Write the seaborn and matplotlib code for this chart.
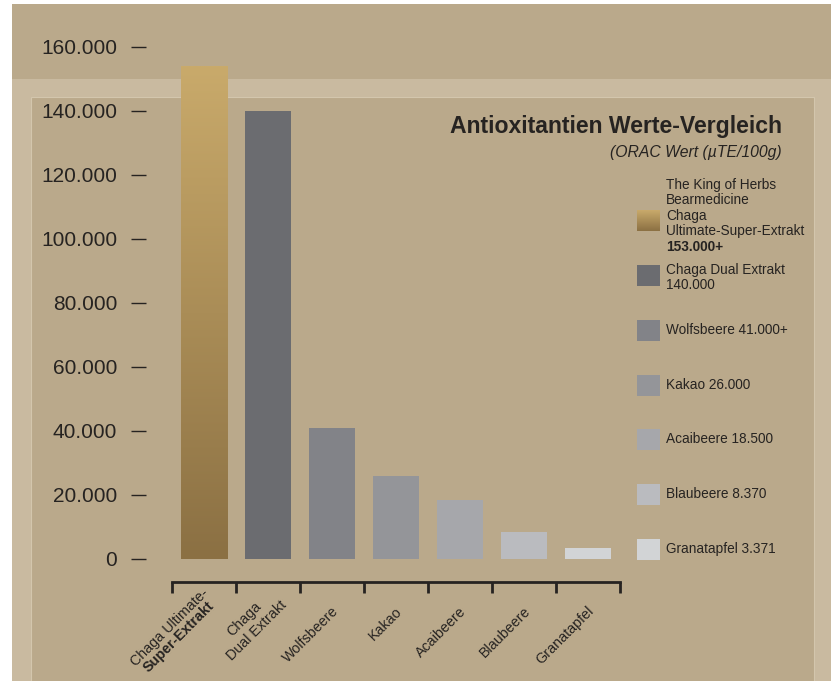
import matplotlib
matplotlib.use('Agg')
import matplotlib.pyplot as plt
import matplotlib.transforms as mtransforms
from matplotlib.colors import LinearSegmentedColormap
from matplotlib.patches import Rectangle
from matplotlib.ticker import FuncFormatter
import seaborn as sns
import numpy as np

# values (ORAC, µTE/100g)
categories = ['Chaga Ultimate-Super-Extrakt', 'Chaga Dual Extrakt', 'Wolfsbeere',
              'Kakao', 'Acaibeere', 'Blaubeere', 'Granatapfel']
orac_values = [154000, 140000, 41000, 26000, 18500, 8370, 3371]
bar_colors = ['#b08f58', '#6b6c70', '#828388', '#949599', '#a6a7ab', '#babbbf', '#d2d4d6']
y_ticks = [0, 20000, 40000, 60000, 80000, 100000, 120000, 140000, 160000]

# x-axis labels: (text, weight) per line
x_label_lines = [
    [('Chaga Ultimate-', 'normal'), ('Super-Extrakt', 'bold')],
    [('Chaga', 'normal'), ('Dual Extrakt', 'normal')],
    [('Wolfsbeere', 'normal')],
    [('Kakao', 'normal')],
    [('Acaibeere', 'normal')],
    [('Blaubeere', 'normal')],
    [('Granatapfel', 'normal')],
]
# legend texts: (regular part, bold part)
legend_labels = [
    ('The King of Herbs\nBearmedicine\nChaga\nUltimate-Super-Extrakt', '153.000+'),
    ('Chaga Dual Extrakt\n140.000', None),
    ('Wolfsbeere 41.000+', None),
    ('Kakao 26.000', None),
    ('Acaibeere 18.500', None),
    ('Blaubeere 8.370', None),
    ('Granatapfel 3.371', None),
]

TAN = '#baa98b'
LIGHT = '#c9baa0'
INK = '#262321'
GOLD_TOP = '#c9aa6b'
GOLD_BOTTOM = '#8b7043'

W, H = 835, 681
sns.set_style('ticks')
plt.rcParams['font.family'] = ['Liberation Sans', 'DejaVu Sans']

fig = plt.figure(figsize=(W / 100, H / 100), dpi=100, facecolor='white')


def fx(px):
    return px / W


def fy(py):
    return 1 - py / H


# background panels (behind the axes)
fig.patches.append(Rectangle((fx(12), fy(681)), fx(831) - fx(12), fy(79) - fy(681),
                             transform=fig.transFigure, facecolor=LIGHT, edgecolor='none', zorder=-3))
fig.patches.append(Rectangle((fx(12), fy(79)), fx(831) - fx(12), fy(4) - fy(79),
                             transform=fig.transFigure, facecolor=TAN, edgecolor='none', zorder=-3))
fig.patches.append(Rectangle((fx(31), fy(690)), fx(814) - fx(31), fy(97) - fy(690),
                             transform=fig.transFigure, facecolor=TAN, edgecolor='#d3c6ad',
                             linewidth=0.8, zorder=-2))

ax = fig.add_axes([fx(172), fy(559), fx(620) - fx(172), fy(47) - fy(559)])
ax.set_facecolor('none')

sns.barplot(x=categories, y=orac_values, hue=categories, palette=bar_colors,
            width=0.72, saturation=1, legend=False, linewidth=0, ax=ax)

# gradient on the first bar
cmap_gold = LinearSegmentedColormap.from_list('gold', [GOLD_BOTTOM, GOLD_TOP])
grad = np.linspace(0, 1, 256).reshape(-1, 1)
bar = ax.patches[0]
im = ax.imshow(grad, cmap=cmap_gold, origin='lower', aspect='auto',
               extent=[bar.get_x(), bar.get_x() + bar.get_width(), 0, bar.get_height()],
               zorder=bar.get_zorder())
im.set_clip_path(bar)
bar.set_facecolor('none')

ax.set_xlim(-0.5, 6.5)
ax.set_ylim(0, 160000)

# y axis
ax.set_yticks(y_ticks)
ax.yaxis.set_major_formatter(FuncFormatter(lambda v, p: f'{int(v):,}'.replace(',', '.')))
sns.despine(ax=ax, top=True, right=True, left=True, bottom=False)
ax.spines['left'].set_position(('outward', 18.7))
ax.tick_params(axis='y', left=True, length=10.8, width=1.0, pad=10, labelsize=15,
               color=INK, labelcolor=INK, direction='out')

# x axis: ticks at category boundaries
ax.set_xticks(np.arange(-0.5, 7, 1))
ax.set_xticklabels([])
ax.spines['bottom'].set_position(('outward', 16.6))
ax.spines['bottom'].set_linewidth(2)
ax.spines['bottom'].set_color(INK)
ax.tick_params(axis='x', bottom=True, length=8, width=2, color=INK, direction='out')

# rotated category labels (anchor offsets in pixels from category centre / axis bottom)
label_offsets = [
    [(2.5, -32), (8, -45)],
    [(-9, -45), (16, -44)],
    [(4, -50)], [(4, -50)], [(4, -50)], [(4, -50)], [(4, -50)],
]
base = ax.get_xaxis_transform()
for i, lines in enumerate(x_label_lines):
    for (txt, weight), (dx, dy) in zip(lines, label_offsets[i]):
        tr = mtransforms.offset_copy(base, fig=fig, x=dx, y=dy, units='dots')
        ax.text(i, 0, txt, transform=tr, rotation=45, rotation_mode='anchor',
                ha='right', va='center', fontsize=10.3, fontweight=weight,
                color=INK, clip_on=False)

# title
fig.text(fx(782), fy(133), 'Antioxitantien Werte-Vergleich', ha='right', va='baseline',
         fontsize=16.6, fontweight='bold', color=INK)
fig.text(fx(782), fy(157), '(ORAC Wert (µTE/100g)', ha='right', va='baseline',
         fontsize=11.3, fontstyle='italic', color=INK)

# legend drawn by hand
swatch_centers = [220, 275.5, 330, 385, 439, 494, 549]
for i, (label, bold) in enumerate(legend_labels):
    cy = swatch_centers[i]
    if i == 0:
        sw = fig.add_axes([fx(637), fy(cy + 10.5), fx(660) - fx(637), fy(cy - 10.5) - fy(cy + 10.5)])
        sw.imshow(grad, cmap=cmap_gold, origin='lower', aspect='auto')
        sw.axis('off')
    else:
        fig.patches.append(Rectangle((fx(637), fy(cy + 10.5)), fx(660) - fx(637),
                                     fy(cy - 10.5) - fy(cy + 10.5), transform=fig.transFigure,
                                     facecolor=bar_colors[i], edgecolor='none', zorder=1))
    if i == 0:
        fig.text(fx(666), fy(208), label, ha='left', va='center', fontsize=9.8,
                 linespacing=1.12, color=INK)
        fig.text(fx(666), fy(247), bold, ha='left', va='center', fontsize=9.8,
                 fontweight='bold', color=INK)
    elif i == 1:
        fig.text(fx(666), fy(277.5), label, ha='left', va='center', fontsize=9.8,
                 linespacing=1.12, color=INK)
    else:
        fig.text(fx(666), fy(cy), label, ha='left', va='center', fontsize=9.8, color=INK)

fig.savefig('out.png', dpi=100, facecolor='white')
